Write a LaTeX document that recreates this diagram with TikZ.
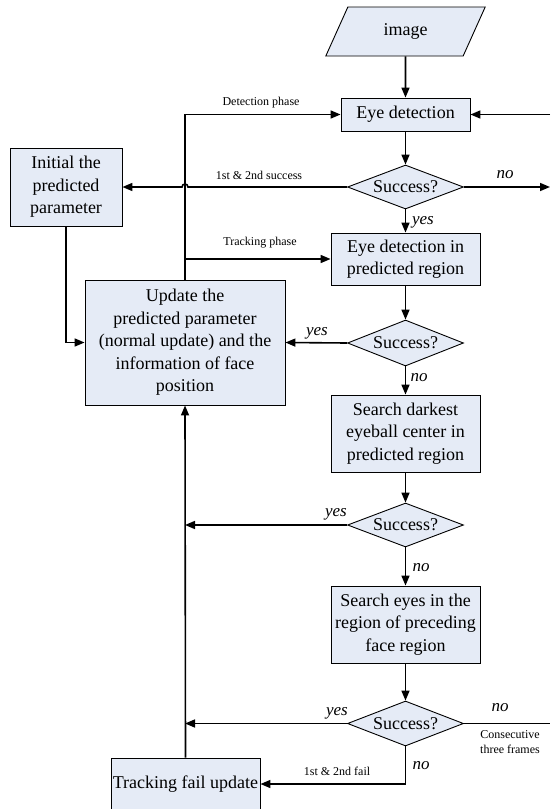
\documentclass[tikz,border=0pt]{standalone}
\usepackage{fontspec}
\setmainfont{Liberation Serif}
\usepackage{tikz}
\usetikzlibrary{shapes.geometric,arrows.meta}
\definecolor{boxfill}{RGB}{229,235,246}

\begin{document}
\begin{tikzpicture}[x=1pt,y=-1pt,
	box/.style={draw, line width=0.9pt, fill=boxfill, inner sep=0pt, align=center, font=\fontsize{18}{22.5}\selectfont},
	decide/.style={diamond, draw, line width=0.9pt, fill=boxfill, inner sep=0pt, aspect=2.6, minimum width=116pt, minimum height=44pt, font=\fontsize{18}{22.5}\selectfont},
	flow/.style={line width=1.6pt, -{Triangle[length=10pt,width=8pt]}},
	wire/.style={line width=1.6pt},
	ans/.style={inner sep=0pt, font=\fontsize{17}{20}\selectfont\itshape},
	note/.style={inner sep=0pt, align=center, font=\fontsize{12}{15}\selectfont}]

	\useasboundingbox (0,0) rectangle (550,809);

	% main column
	\node[box, trapezium, trapezium left angle=62, trapezium right angle=118, trapezium stretches=true, minimum width=160pt, minimum height=49pt] (img) at (405.5,31.5) {image};
	\node[box, minimum width=129pt, minimum height=33pt] (eyedet) at (405.5,114.5) {Eye detection};
	\node[decide] (dia1) at (405.5,187) {Success?};
	\node[box, minimum width=149pt, minimum height=52pt] (predict) at (405.5,259) {Eye detection in\\predicted region};
	\node[decide, minimum height=46pt] (dia2) at (405.5,343) {Success?};
	\node[box, minimum width=149pt, minimum height=77pt] (darkest) at (405.5,433.5) {Search darkest\\eyeball center in\\predicted region};
	\node[decide] (dia3) at (405.5,525) {Success?};
	\node[box, minimum width=149pt, minimum height=77pt] (search) at (405.5,624.5) {Search eyes in the\\region of preceding\\face region};
	\node[decide, minimum height=45pt] (dia4) at (405.5,723.5) {Success?};

	% left column
	\node[box, minimum width=112pt, minimum height=78pt] (init) at (66,187) {Initial the\\predicted\\parameter};
	\node[box, minimum width=200pt, minimum height=125pt] (update) at (185,342.5) {Update the\\predicted parameter\\(normal update) and the\\information of face\\position};
	\node[box, minimum width=149pt, minimum height=52pt] (fail) at (185.5,784) {Tracking fail update};

	% free ends
	\coordinate (rtop) at (550,114.5);
	\coordinate (rno) at (550,187);
	\coordinate (rlow) at (550,723.5);
	\coordinate (hop) at (188,187);
	\coordinate (trk) at (185,259);

	% connectors
	\draw[flow] (img.south) -- (eyedet.north);
	\draw[flow] (eyedet.south) -- (dia1.north);
	\draw[flow] (dia1.south) -- (predict.north);
	\draw[flow] (predict.south) -- (dia2.north);
	\draw[flow] (dia2.south) -- (darkest.north);
	\draw[flow] (darkest.south) -- (dia3.north);
	\draw[flow] (dia3.south) -- (search.north);
	\draw[flow] (search.south) -- (dia4.north);

	\draw[flow] (rtop) -- (eyedet.east);
	\draw[flow] (dia1.east) -- (rno);
	\draw[wire] (dia4.east) -- (rlow);

	\draw[flow] (update.north) |- (eyedet.west);
	\draw[flow] (dia1.west) -- (hop) arc[start angle=0, end angle=-180, radius=3] -- (init.east);
	\draw[flow] (trk) -- (predict.west);
	\draw[flow] (init.south) |- (update.west);
	\draw[flow] (dia2.west) -- (update.east);
	\foreach \d in {dia3,dia4}
		\draw[flow] (\d.west) -- (\d.west -| update.south);
	\draw[flow] (dia4.south) |- (fail.east);
	\draw[flow] (fail.north) -- (update.south);

	% labels
	\node[note] (lbldet) at (261,103) {Detection phase};
	\node[note] (lblsucc) at (259,175) {1st \& 2nd success};
	\node[note] (lbltrk) at (260,243) {Tracking phase};
	\node[note] (lblcons) at (510,742.5) {Consecutive\\three frames};
	\node[note] (lblfail) at (337,771) {1st \& 2nd fail};

	\node[ans] (yes1) at (423,222) {yes};
	\node[ans] (no1) at (505,175) {no};
	\node[ans] (yes2) at (317,333) {yes};
	\node[ans] (no2) at (419,378) {no};
	\node[ans] (yes3) at (336,514) {yes};
	\node[ans] (no3) at (421,568) {no};
	\node[ans] (yes4) at (337,713) {yes};
	\node[ans] (no4) at (500,708) {no};
	\node[ans] (no5) at (421,766) {no};

\end{tikzpicture}
\end{document}
